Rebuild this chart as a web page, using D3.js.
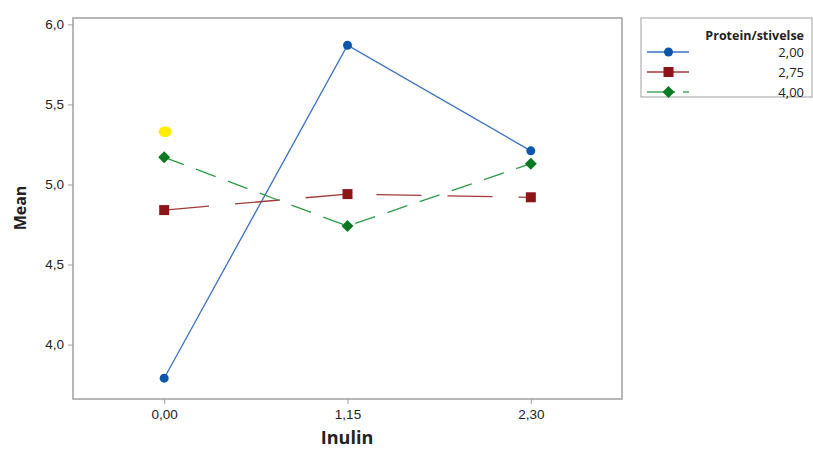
<!DOCTYPE html>
<html><head><meta charset="utf-8">
<script src="https://cdn.jsdelivr.net/npm/d3@7"></script>
<style>body{margin:0;background:#fff}svg{display:block;font-family:"Open Sans","Segoe UI",sans-serif}</style>
</head><body><svg id="c" width="813" height="450"></svg>
<script>
const categories = ["0,00", "1,15", "2,30"];
const xValues = [0, 1.15, 2.30];
const seriesNames = ["2,00", "2,75", "4,00"];
const series200 = [3.79, 5.87, 5.21];
const series275 = [4.84, 4.94, 4.92];
const series400 = [5.17, 4.74, 5.13];
const highlightPoint = [0, 5.33];
const yTicks = [4.0, 4.5, 5.0, 5.5, 6.0];
const legendTitle = "Protein/stivelse";

const svg = d3.select("#c");
const L = 73, R = 622, T = 18, B = 399;
const x = d3.scaleLinear().domain([-0.572, 2.872]).range([L, R]);
const y = d3.scaleLinear().domain([3.66, 6.04]).range([B, T]);

const styles = [
  {line:"#3a72c0", fill:"#0b56a8", dash:null, shape:"circle"},
  {line:"#a33a3a", fill:"#8c1515", dash:"45,26", shape:"square"},
  {line:"#2e9a45", fill:"#0a7a22", dash:"21,13", shape:"diamond"}
];
const allSeries = [series200, series275, series400];

// frame
svg.append("rect").attr("x",L).attr("y",T).attr("width",R-L).attr("height",B-T)
  .attr("fill","#fff").attr("stroke","#a0a0a0").attr("stroke-width",1.5);

// axes
const yAxis = d3.axisLeft(y).tickValues(yTicks).tickSize(5).tickPadding(4)
  .tickFormat(d => d3.format(".1f")(d).replace(".", ","));
const gy = svg.append("g").attr("transform",`translate(${L},0)`).call(yAxis);
gy.select(".domain").remove();
gy.selectAll("line").attr("stroke","#a0a0a0");
gy.selectAll("text").attr("font-size",13.5).attr("fill","#222");

const xAxis = d3.axisBottom(x).tickValues(xValues).tickSize(5).tickPadding(5)
  .tickFormat((d,i) => categories[i]);
const gx = svg.append("g").attr("transform",`translate(0,${B})`).call(xAxis);
gx.select(".domain").remove();
gx.selectAll("line").attr("stroke","#a0a0a0");
gx.selectAll("text").attr("font-size",13.5).attr("fill","#222");

svg.append("text").attr("x",347).attr("y",444).attr("text-anchor","middle")
  .attr("font-size",18).attr("font-weight","bold").attr("fill","#222").text("Inulin");
svg.append("text").attr("transform","translate(26,208) rotate(-90)").attr("text-anchor","middle")
  .attr("font-size",16).attr("font-weight","bold").attr("fill","#222").text("Mean");

// highlight
svg.append("ellipse").attr("cx",x(highlightPoint[0])+1).attr("cy",y(highlightPoint[1]))
  .attr("rx",6.5).attr("ry",5.5).attr("fill","#ffee00");

const line = d3.line().x((d,i)=>x(xValues[i])).y(d=>y(d));
function marker(g, shape, cx, cy, fill){
  if(shape==="circle") g.append("circle").attr("cx",cx).attr("cy",cy).attr("r",4.5).attr("fill",fill);
  else if(shape==="square") g.append("rect").attr("x",cx-5).attr("y",cy-5).attr("width",10).attr("height",10).attr("fill",fill);
  else g.append("path").attr("d",`M${cx},${cy-6}L${cx+6},${cy}L${cx},${cy+6}L${cx-6},${cy}Z`).attr("fill",fill);
}
allSeries.forEach((s,k)=>{
  const st = styles[k];
  const g = svg.append("g");
  g.append("path").attr("d",line(s)).attr("fill","none").attr("stroke",st.line)
    .attr("stroke-width",1.3).attr("stroke-dasharray",st.dash);
  s.forEach((v,i)=>marker(g, st.shape, x(xValues[i]), y(v), st.fill));
});

// legend
const lg = svg.append("g");
lg.append("rect").attr("x",641).attr("y",18).attr("width",171).attr("height",79)
  .attr("fill","#fff").attr("stroke","#a0a0a0").attr("stroke-width",1);
lg.append("text").attr("x",804).attr("y",40).attr("text-anchor","end")
  .attr("font-size",12.5).attr("font-weight","bold").attr("fill","#222").text(legendTitle);
seriesNames.forEach((n,k)=>{
  const st = styles[k];
  const cy = 52 + k*20;
  if(k===2){
    lg.append("line").attr("x1",647).attr("x2",675).attr("y1",cy).attr("y2",cy).attr("stroke",st.line).attr("stroke-width",1.3);
    lg.append("line").attr("x1",683).attr("x2",689).attr("y1",cy).attr("y2",cy).attr("stroke",st.line).attr("stroke-width",1.3);
  } else {
    lg.append("line").attr("x1",647).attr("x2",689).attr("y1",cy).attr("y2",cy).attr("stroke",st.line).attr("stroke-width",1.3);
  }
  marker(lg, st.shape, 668.5, cy, st.fill);
  lg.append("text").attr("x",804).attr("y",cy+4.5).attr("text-anchor","end")
    .attr("font-size",13).attr("fill","#222").text(n);
});
</script></body></html>
